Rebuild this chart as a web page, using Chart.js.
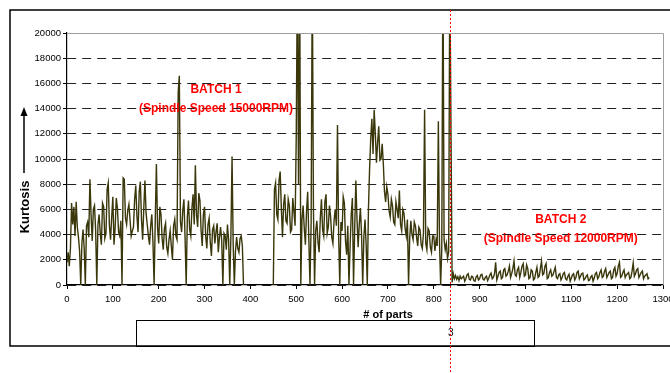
<!DOCTYPE html>
<html>
<head>
<meta charset="utf-8">
<script src="https://cdn.jsdelivr.net/npm/chart.js@4.4.1/dist/chart.umd.min.js"></script>
<style>
  body { margin: 0; background: #fff; }
  canvas { display: block; }
</style>
</head>
<body>
<canvas id="kurtosisChart" width="670" height="373"></canvas>
<script>
// Kurtosis per part, every 2.5 parts

var partStep = 2.5;

// batch 1, first run (parts 0 - 385)
var batch1aStart = 0;
var batch1a = [
    1800, 2600, 1500, 2900, 6500, 4800, 6200, 3900, 6600, 4600,
    3800, 2700, 0, 3300, 4400, 2900, 0, 4700, 5000, 3800,
    8400, 5600, 3500, 6000, 6300, 4300, 0, 4800, 5600, 4100,
    3200, 6500, 6200, 3700, 4100, 7600, 8100, 4700, 3600, 5400,
    7000, 3200, 4500, 6900, 6100, 4200, 3900, 5100, 0, 8500,
    8400, 5300, 4800, 5900, 6400, 5200, 3900, 4300, 4600, 6800,
    7900, 5500, 4200, 7400, 8200, 5200, 3600, 6100, 8300, 5700,
    4800, 3900, 3200, 4700, 5600, 3400, 0, 5100, 9600, 4600,
    3300, 6200, 5600, 3700, 2800, 4500, 4900, 3000, 2500, 3600,
    4300, 3100, 2000, 4700, 5200, 3900, 3600, 15300, 16600, 5000,
    4200, 5900, 6800, 3800, 0, 5400, 6700, 4400, 3900, 6100,
    7200, 4800, 9500, 5600, 4600, 7300, 6700, 4300, 3100, 5600,
    6200, 3900, 2900, 4800, 5300, 3400, 2300, 4400, 4700, 3300,
    4200, 4900, 2600, 3800, 4600, 3500, 0, 4100, 3900, 2800,
    4800, 3600, 0, 3900, 10200, 3200, 0, 2700, 3800, 2900,
    2600, 3700, 3900, 3100, 0];

// batch 1, second run (parts 450 - 835)
var batch1bStart = 450;
var batch1b = [
    0, 7600, 8100, 5600, 5200, 8300, 9000, 6100, 3800, 6400,
    7200, 5100, 4900, 6800, 6300, 4200, 4400, 6900, 5800, 4700,
    11700, 25000, 8000, 25000, 0, 5200, 6300, 4500, 3200, 5900,
    7400, 3600, 0, 4900, 25000, 6100, 0, 4300, 5100, 3400,
    2600, 5300, 6800, 4400, 3900, 6600, 7200, 4100, 4600, 6300,
    5400, 3800, 3300, 5100, 6000, 4700, 12700, 3900, 0, 5000,
    4300, 7000, 6500, 3500, 2400, 4700, 0, 3100, 5600, 6900,
    0, 4400, 8300, 5300, 3000, 4800, 6100, 4000, 0, 3800,
    5200, 3200, 0, 6000, 9200, 11600, 13200, 10400, 13900, 12000,
    9700, 11300, 12600, 9900, 10000, 11200, 9600, 7400, 6600, 7800,
    7200, 5900, 5400, 6800, 6300, 5000, 4800, 6600, 6000, 5300,
    7500, 4800, 4300, 6000, 5700, 4500, 3900, 5200, 0, 3700,
    5100, 4000, 3600, 5000, 4700, 3800, 3100, 4600, 4400, 3200,
    2900, 4100, 13900, 3300, 2800, 4500, 4300, 3000, 2600, 3900,
    3900, 2700, 3600, 3100, 13000, 3400, 0, 2900, 26000, 3600,
    2800, 3300, 2100, 2600, 25000];

// batch 2 (parts 840 - 1270)
var batch2Start = 840;
var batch2 = [
    200, 900, 500, 750, 450, 650, 350, 700, 500, 600,
    700, 300, 500, 800, 900, 450, 400, 700, 650, 350,
    300, 650, 750, 400, 500, 800, 850, 450, 400, 600,
    700, 350, 550, 800, 950, 500, 600, 900, 1800, 400,
    700, 1000, 1100, 500, 600, 1200, 1300, 700, 800, 1100,
    1500, 600, 900, 1300, 1900, 800, 700, 1200, 1400, 600,
    1000, 1500, 1700, 700, 800, 1600, 1300, 500, 600, 1200,
    1100, 400, 500, 1000, 1400, 600, 700, 1300, 1900, 800,
    900, 1500, 1700, 500, 600, 1000, 1200, 700, 800, 1100,
    1400, 600, 500, 800, 900, 400, 600, 900, 1000, 500,
    400, 700, 850, 300, 550, 800, 900, 400, 600, 1000,
    1100, 500, 700, 900, 950, 400, 500, 700, 800, 350,
    400, 650, 750, 300, 550, 900, 1000, 500, 650, 1000,
    1200, 600, 700, 1100, 1300, 600, 800, 1000, 1100, 500,
    600, 1200, 1400, 700, 900, 1500, 1800, 600, 700, 1000,
    1200, 600, 800, 900, 1000, 500, 600, 1100, 1750, 700,
    900, 1200, 1300, 600, 800, 1000, 1100, 500, 700, 800,
    900, 500, 600];

var batchChangePart = 836;

function toPoints(start, values) {
    return values.map(function (v, i) { return { x: start + i * partStep, y: v }; });
}

var points = toPoints(batch1aStart, batch1a)
    .concat([{ x: 420, y: null }])
    .concat(toPoints(batch1bStart, batch1b))
    .concat(toPoints(batch2Start, batch2));

var FONT = '"Liberation Sans", Arial, sans-serif';

var extras = {
    id: 'extras',
    afterDraw: function (chart) {
        var ctx = chart.ctx;
        var a = chart.chartArea;
        var xs = chart.scales.x, ys = chart.scales.y;
        ctx.save();

        // plot frame, top and right
        ctx.strokeStyle = '#a0a0a0';
        ctx.lineWidth = 1;
        ctx.beginPath();
        ctx.moveTo(a.left, a.top + 0.5);
        ctx.lineTo(a.right + 0.5, a.top + 0.5);
        ctx.lineTo(a.right + 0.5, a.bottom);
        ctx.stroke();

        // outer frame
        ctx.strokeStyle = '#000';
        ctx.lineWidth = 1.5;
        ctx.beginPath();
        ctx.moveTo(672, 10);
        ctx.lineTo(10, 10);
        ctx.lineTo(10, 346);
        ctx.lineTo(672, 346);
        ctx.stroke();

        // legend box below
        ctx.lineWidth = 1;
        ctx.strokeRect(136.5, 320.5, 398, 26);
        ctx.fillStyle = '#000';
        ctx.font = '10px ' + FONT;
        ctx.textAlign = 'left';
        ctx.textBaseline = 'middle';
        ctx.fillText('3', 448, 333);

        // axis titles
        ctx.font = 'bold 11px ' + FONT;
        ctx.textAlign = 'center';
        ctx.fillText('# of parts', 388, 315);

        ctx.save();
        ctx.translate(25, 207);
        ctx.rotate(-Math.PI / 2);
        ctx.font = 'bold 13px ' + FONT;
        ctx.fillText('Kurtosis', 0, 0);
        ctx.restore();

        // arrow
        ctx.lineWidth = 1.5;
        ctx.beginPath();
        ctx.moveTo(24, 173);
        ctx.lineTo(24, 113);
        ctx.stroke();
        ctx.beginPath();
        ctx.moveTo(24, 107);
        ctx.lineTo(20.5, 116);
        ctx.lineTo(27.5, 116);
        ctx.closePath();
        ctx.fill();

        // batch notes
        ctx.fillStyle = '#ff0000';
        ctx.font = 'bold 12px ' + FONT;
        var notes = [
            ['BATCH 1', 325, 15500], ['(Spindle Speed 15000RPM)', 325, 14000],
            ['BATCH 2', 1077, 5200], ['(Spindle Speed 12000RPM)', 1077, 3650]
        ];
        notes.forEach(function (n) {
            ctx.fillText(n[0], xs.getPixelForValue(n[1]), ys.getPixelForValue(n[2]));
        });

        // batch change marker
        var px = Math.round(xs.getPixelForValue(batchChangePart)) + 0.5;
        ctx.strokeStyle = '#ff0000';
        ctx.lineWidth = 1;
        ctx.setLineDash([2, 2]);
        ctx.beginPath();
        ctx.moveTo(px, 10);
        ctx.lineTo(px, 373);
        ctx.stroke();

        ctx.restore();
    }
};

var ctx = document.getElementById('kurtosisChart');

var kurtosisChart = new Chart(ctx, {
    type: 'line',
    data: {
        datasets: [{
            label: 'Kurtosis',
            data: points,
            borderColor: '#3a370a',
            borderWidth: 1.4,
            pointRadius: 0,
            fill: false,
            tension: 0,
            spanGaps: false
        }]
    },
    options: {
        responsive: false,
        animation: false,
        layout: { padding: { left: 0, top: 33, right: 7, bottom: 0 } },
        plugins: { legend: { display: false }, tooltip: { enabled: false } },
        scales: {
            x: {
                type: 'linear',
                min: 0,
                max: 1300,
                afterFit: function (s) { s.height = 88; s.paddingLeft = 0; s.paddingRight = 0; },
                ticks: { stepSize: 100, color: '#000', padding: 5, maxRotation: 0,
                    font: { family: FONT, size: 9.5 },
                    callback: function (v) { return String(v); } },
                grid: { drawOnChartArea: false, drawTicks: true, tickLength: 4, color: '#000' },
                border: { color: '#000', width: 1.2 }
            },
            y: {
                min: 0,
                max: 20000,
                afterFit: function (s) { s.width = 67; s.paddingTop = 0; s.paddingBottom = 0; },
                ticks: { stepSize: 2000, color: '#000', padding: 2,
                    font: { family: FONT, size: 9.5 },
                    callback: function (v) { return String(v); } },
                grid: {
                    color: function (c) { return c.tick && c.tick.value === 20000 ? 'rgba(0,0,0,0)' : '#222'; },
                    tickLength: 4,
                    tickColor: '#000',
                    tickBorderDash: []
                },
                border: { color: '#000', width: 1.2, dash: [9, 6] }
            }
        }
    },
    plugins: [extras]
});
</script>
</body>
</html>
